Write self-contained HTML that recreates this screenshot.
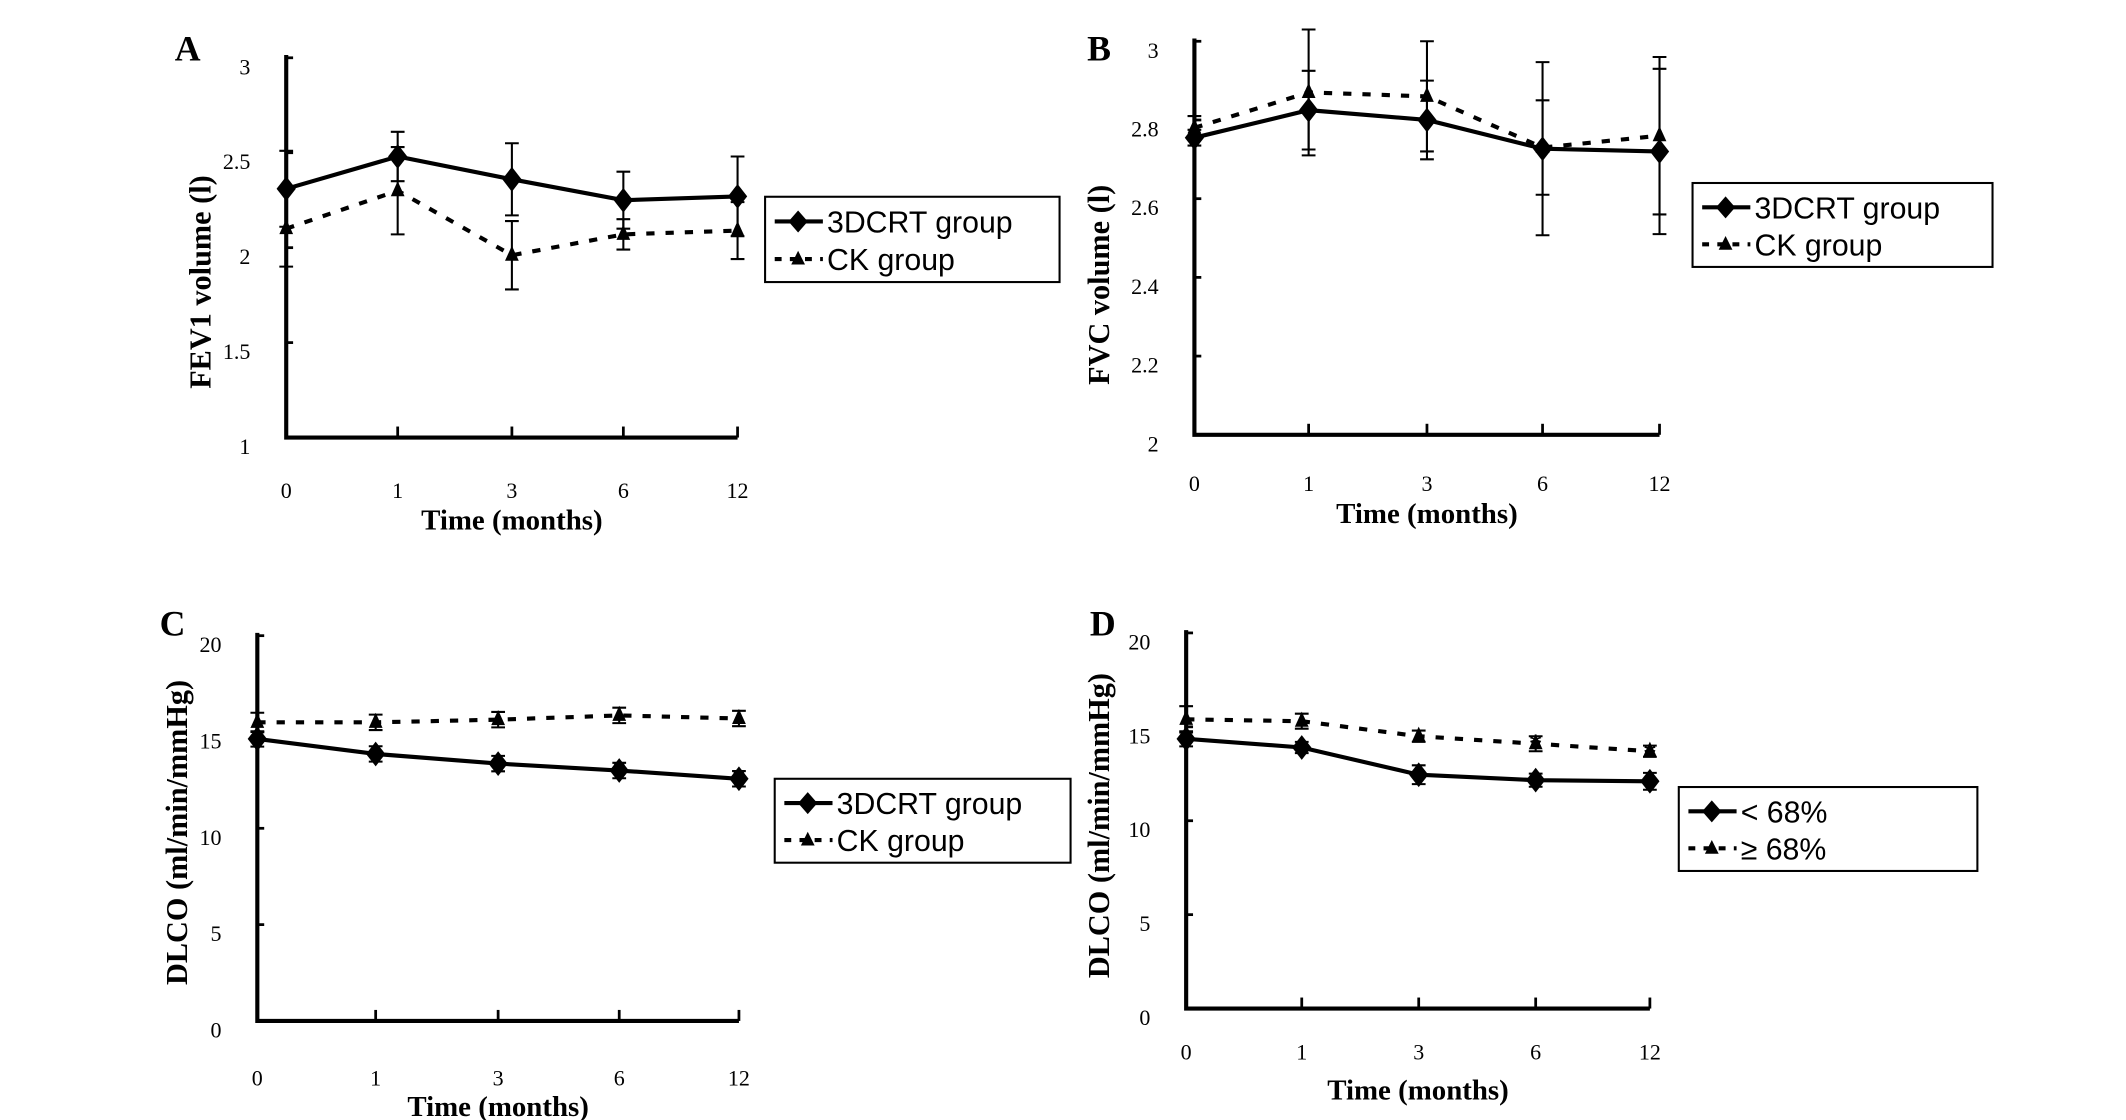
<!DOCTYPE html>
<html><head><meta charset="utf-8"><style>
html,body{margin:0;padding:0;background:#fff;}
svg{display:block;font-family:"Liberation Serif",serif;}
.lg{font-family:"Liberation Sans",sans-serif;font-size:22px;}
</style></head><body>
<svg id="fig" width="2126" height="1120" viewBox="0 0 1545 814" preserveAspectRatio="none" xmlns="http://www.w3.org/2000/svg"></svg>
<script>
const categories = ["0","1","3","6","12"];
const aSeries1 = [2.31,2.48,2.36,2.25,2.27];
const aErr1 = [0.2,0.13,0.19,0.15,0.21];
const aSeries2 = [2.10,2.30,1.96,2.07,2.09];
const aErr2 = [0.2,0.23,0.18,0.08,0.15];
const aTicks = ["1","1.5","2","2.5","3"];
const bSeries1 = [2.755,2.825,2.80,2.727,2.72];
const bErr1 = [0.02,0.1,0.1,0.22,0.21];
const bSeries2 = [2.78,2.87,2.86,2.73,2.76];
const bErr2 = [0.03,0.16,0.14,0.12,0.2];
const bTicks = ["2","2.2","2.4","2.6","2.8","3"];
const cSeries1 = [14.64,13.86,13.36,13.0,12.57];
const cErr1 = [0.4,0.4,0.4,0.4,0.4];
const cSeries2 = [15.5,15.5,15.64,15.86,15.7];
const cErr2 = [0.5,0.4,0.4,0.4,0.4];
const dSeries1 = [14.36,13.9,12.45,12.16,12.1];
const dErr1 = [0.4,0.3,0.5,0.35,0.45];
const dSeries2 = [15.4,15.3,14.5,14.1,13.7];
const dErr2 = [0.7,0.4,0.3,0.4,0.3];
const dlcoTicks = ["0","5","10","15","20"];

const NS="http://www.w3.org/2000/svg";
const svg=document.getElementById('fig');
function el(tag,attrs,parent){const e=document.createElementNS(NS,tag);for(const k in attrs)e.setAttribute(k,attrs[k]);(parent||svg).appendChild(e);return e;}
function txt(s,attrs,parent){const e=el('text',attrs,parent);e.textContent=s;return e;}

function panel(p){
  const g=el('g',{});
  
  
  const ys=v=>p.y0+(v-p.vmin)/(p.vmax-p.vmin)*(p.y1-p.y0);
  const xs=i=>p.xs[i];
  const L=txt(p.id,{x:p.letter[0],y:p.letter[1],'font-size':26,'font-weight':'bold'},g);
  
  
  const ax=el('path',{d:`M${p.xs[0]},${p.y1-2}V${p.y0}H${p.xs[4]}`,stroke:'#000','stroke-width':3,fill:'none'},g);
  
  
  p.ticks.forEach(t=>{
    const y=ys(parseFloat(t));
    el('line',{x1:p.xs[0],x2:p.xs[0]+5,y1:y,y2:y,stroke:'#000','stroke-width':2},g);
    const tl=txt(t,{x:p.xs[0]-26,y:y+12,'font-size':16,'text-anchor':'end'},g);
    
    
  });
  categories.forEach((c,i)=>{
    el('line',{x1:xs(i),x2:xs(i),y1:p.y0,y2:p.y0-8,stroke:'#000','stroke-width':2},g);
    const tl=txt(c,{x:xs(i),y:p.xlabY,'font-size':16,'text-anchor':'middle'},g);
    
    
  });
  const xt=txt('Time (months)',{x:(p.xs[0]+p.xs[4])/2,y:p.xtitY,'font-size':21,'font-weight':'bold','text-anchor':'middle'},g);
  
  
  const yt=txt(p.ytitle,{x:0,y:0,'font-size':22,'font-weight':'bold','text-anchor':'middle',transform:`translate(${p.ytit[0]},${p.ytit[1]}) rotate(-90)`},g);
  
  
  [[p.s2,p.e2,true],[p.s1,p.e1,false]].forEach(([s,e,dash])=>{
    const sg=el('g',{},g);
    
    
    s.forEach((v,i)=>{
      const x=xs(i),yt_=ys(v+e[i]),yb=ys(v-e[i]);
      el('path',{d:`M${x},${yt_}V${yb}M${x-5},${yt_}H${x+5}M${x-5},${yb}H${x+5}`,stroke:'#000','stroke-width':1.5,fill:'none'},sg);
    });
    const d=s.map((v,i)=>(i?'L':'M')+xs(i)+','+ys(v)).join('');
    el('path',{d,stroke:'#000','stroke-width':3,fill:'none','stroke-dasharray':dash?'6,8':'none'},sg);
    s.forEach((v,i)=>{
      const x=xs(i),y=ys(v);
      let m;
      if(dash) m=el('path',{d:`M${x},${y-7}L${x+5},${y+4}L${x-5},${y+4}Z`,fill:'#000'},sg);
      else m=el('path',{d:`M${x},${y-9}L${x+7},${y}L${x},${y+9}L${x-7},${y}Z`,fill:'#000'},sg);
      
      
    });
  });
  (p.stars||[]).forEach(([i,which])=>{
    const s=which==2?p.s2:p.s1, e=which==2?p.e2:p.e1;
    const st=txt('*',{x:xs(i),y:ys(s[i]+e[i])+12,'font-size':20,'text-anchor':'middle'},g);
    
    
  });
  const lg=el('g',{},g);
  
  
  const [bx,by,bw,bh]=p.leg;
  el('rect',{x:bx,y:by,width:bw,height:bh,fill:'#fff',stroke:'#000','stroke-width':1.5},lg);
  const e1=by+bh*0.29,e2=by+bh*0.73;
  el('line',{x1:bx+7,x2:bx+42,y1:e1,y2:e1,stroke:'#000','stroke-width':3},lg);
  el('path',{d:`M${bx+24},${e1-8}L${bx+31},${e1}L${bx+24},${e1+8}L${bx+17},${e1}Z`,fill:'#000'},lg);
  el('line',{x1:bx+7,x2:bx+42,y1:e2,y2:e2,stroke:'#000','stroke-width':3,'stroke-dasharray':'5,6'},lg);
  el('path',{d:`M${bx+24},${e2-6}L${bx+29},${e2+4}L${bx+19},${e2+4}Z`,fill:'#000'},lg);
  const t1=txt(p.names[0],{x:bx+45,y:e1+8,class:'lg'},lg);
  
  
  const t2=txt(p.names[1],{x:bx+45,y:e2+8,class:'lg'},lg);
  
  
}
const grp=["3DCRT group","CK group"];
panel({id:'A',letter:[127,44],xs:[208,289,372,453,536],y0:318,y1:42,vmin:1,vmax:3,ticks:aTicks,xlabY:362,xtitY:385,ytitle:'FEV1 volume (l)',ytit:[153,205],s1:aSeries1,e1:aErr1,s2:aSeries2,e2:aErr2,leg:[556,143,214,62],names:grp});
panel({id:'B',letter:[790,44],xs:[868,951,1037,1121,1206],y0:316,y1:30,vmin:2,vmax:3,ticks:bTicks,xlabY:357,xtitY:380,ytitle:'FVC volume (l)',ytit:[806,207],s1:bSeries1,e1:bErr1,s2:bSeries2,e2:bErr2,leg:[1230,133,218,61],names:grp});
panel({id:'C',letter:[116,462],xs:[187,273,362,450,537],y0:742,y1:462,vmin:0,vmax:20,ticks:dlcoTicks,xlabY:789,xtitY:811,ytitle:'DLCO (ml/min/mmHg)',ytit:[136,605],s1:cSeries1,e1:cErr1,s2:cSeries2,e2:cErr2,stars:[[3,1],[4,1]],leg:[563,566,215,61],names:grp});
panel({id:'D',letter:[792,462],xs:[862,946,1031,1116,1199],y0:733,y1:460,vmin:0,vmax:20,ticks:dlcoTicks,xlabY:770,xtitY:799,ytitle:'DLCO (ml/min/mmHg)',ytit:[806,600],s1:dSeries1,e1:dErr1,s2:dSeries2,e2:dErr2,stars:[[3,2],[4,2]],leg:[1220,572,217,61],names:["< 68%","≥ 68%"]});
</script>
</body></html>
